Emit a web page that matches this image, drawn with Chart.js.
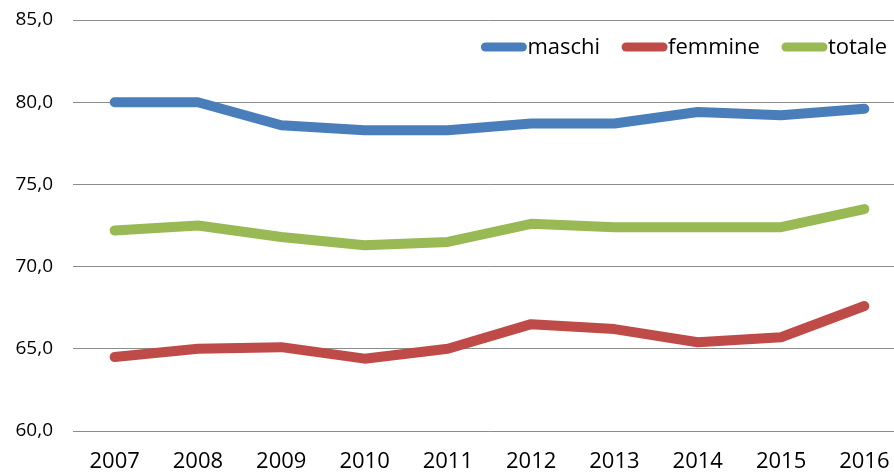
<!DOCTYPE html>
<html>
<head>
<meta charset="utf-8">
<script src="https://cdn.jsdelivr.net/npm/chart.js@4"></script>
<style>
  html, body { margin: 0; padding: 0; background: #fff; overflow: hidden; }
  #wrap { width: 912px; height: 476px; }
</style>
</head>
<body>
<div id="wrap"><canvas id="lineChart"></canvas></div>
<script>
const anni = ['2007', '2008', '2009', '2010', '2011', '2012', '2013', '2014', '2015', '2016'];
const maschi = [80.0, 80.0, 78.6, 78.3, 78.3, 78.7, 78.7, 79.4, 79.2, 79.6];
const femmine = [64.5, 65.0, 65.1, 64.4, 65.0, 66.5, 66.2, 65.4, 65.7, 67.6];
const totale = [72.2, 72.5, 71.8, 71.3, 71.5, 72.6, 72.4, 72.4, 72.4, 73.5];

const FONT = '"Open Sans", sans-serif';

// legenda disegnata dentro l'area del grafico, in alto a destra
const legendaInterna = {
  id: 'legendaInterna',
  afterDatasetsDraw(chart) {
    const ctx = chart.ctx;
    const area = chart.chartArea;
    const y = area.top + 27;
    const segLen = 45;
    ctx.save();
    ctx.font = '22px ' + FONT;
    ctx.textBaseline = 'middle';
    ctx.textAlign = 'left';
    const items = chart.data.datasets.map(ds => ({
      label: ds.label,
      color: ds.borderColor,
      w: segLen + 1 + ctx.measureText(ds.label).width
    }));
    const gap = 22;
    let total = items.reduce((s, it) => s + it.w, 0) + gap * (items.length - 1);
    let x = 887 - total;
    items.forEach(it => {
      ctx.strokeStyle = it.color;
      ctx.lineWidth = 9;
      ctx.lineCap = 'round';
      ctx.beginPath();
      ctx.moveTo(x + 4, y);
      ctx.lineTo(x + segLen - 4, y);
      ctx.stroke();
      ctx.fillStyle = '#000';
      ctx.fillText(it.label, x + segLen + 1, y + 1);
      x += it.w + gap;
    });
    ctx.restore();
  }
};

function serie(label, data, color) {
  return {
    label: label,
    data: data,
    borderColor: color,
    backgroundColor: color,
    borderWidth: 10,
    borderCapStyle: 'round',
    borderJoinStyle: 'round',
    pointRadius: 0,
    tension: 0,
    fill: false
  };
}

new Chart(document.getElementById('lineChart').getContext('2d'), {
  type: 'line',
  data: {
    labels: anni,
    datasets: [
      serie('maschi', maschi, '#4a7ebb'),
      serie('femmine', femmine, '#be4b48'),
      serie('totale', totale, '#98b954')
    ]
  },
  options: {
    responsive: true,
    maintainAspectRatio: false,
    animation: false,
    layout: { padding: { top: 20, right: 6, left: 0, bottom: 0 } },
    plugins: {
      legend: { display: false },
      tooltip: { enabled: false }
    },
    scales: {
      x: {
        offset: true,
        grid: { display: false },
        border: { display: false },
        ticks: { color: '#000', font: { family: FONT, size: 22 }, padding: 10, maxRotation: 0 },
        afterFit(scale) { scale.height = 45; scale.paddingTop = 0; }
      },
      y: {
        min: 60,
        max: 85,
        grid: { color: '#8c8c8c', lineWidth: 1, drawTicks: false },
        border: { display: false },
        ticks: {
          stepSize: 5,
          color: '#000',
          padding: 20,
          font: { family: FONT, size: 19 },
          callback: v => v.toFixed(1).replace('.', ',')
        },
        afterFit(scale) { scale.width = 73; scale.paddingTop = 0; scale.paddingBottom = 0; }
      }
    }
  },
  plugins: [legendaInterna]
});
</script>
</body>
</html>
